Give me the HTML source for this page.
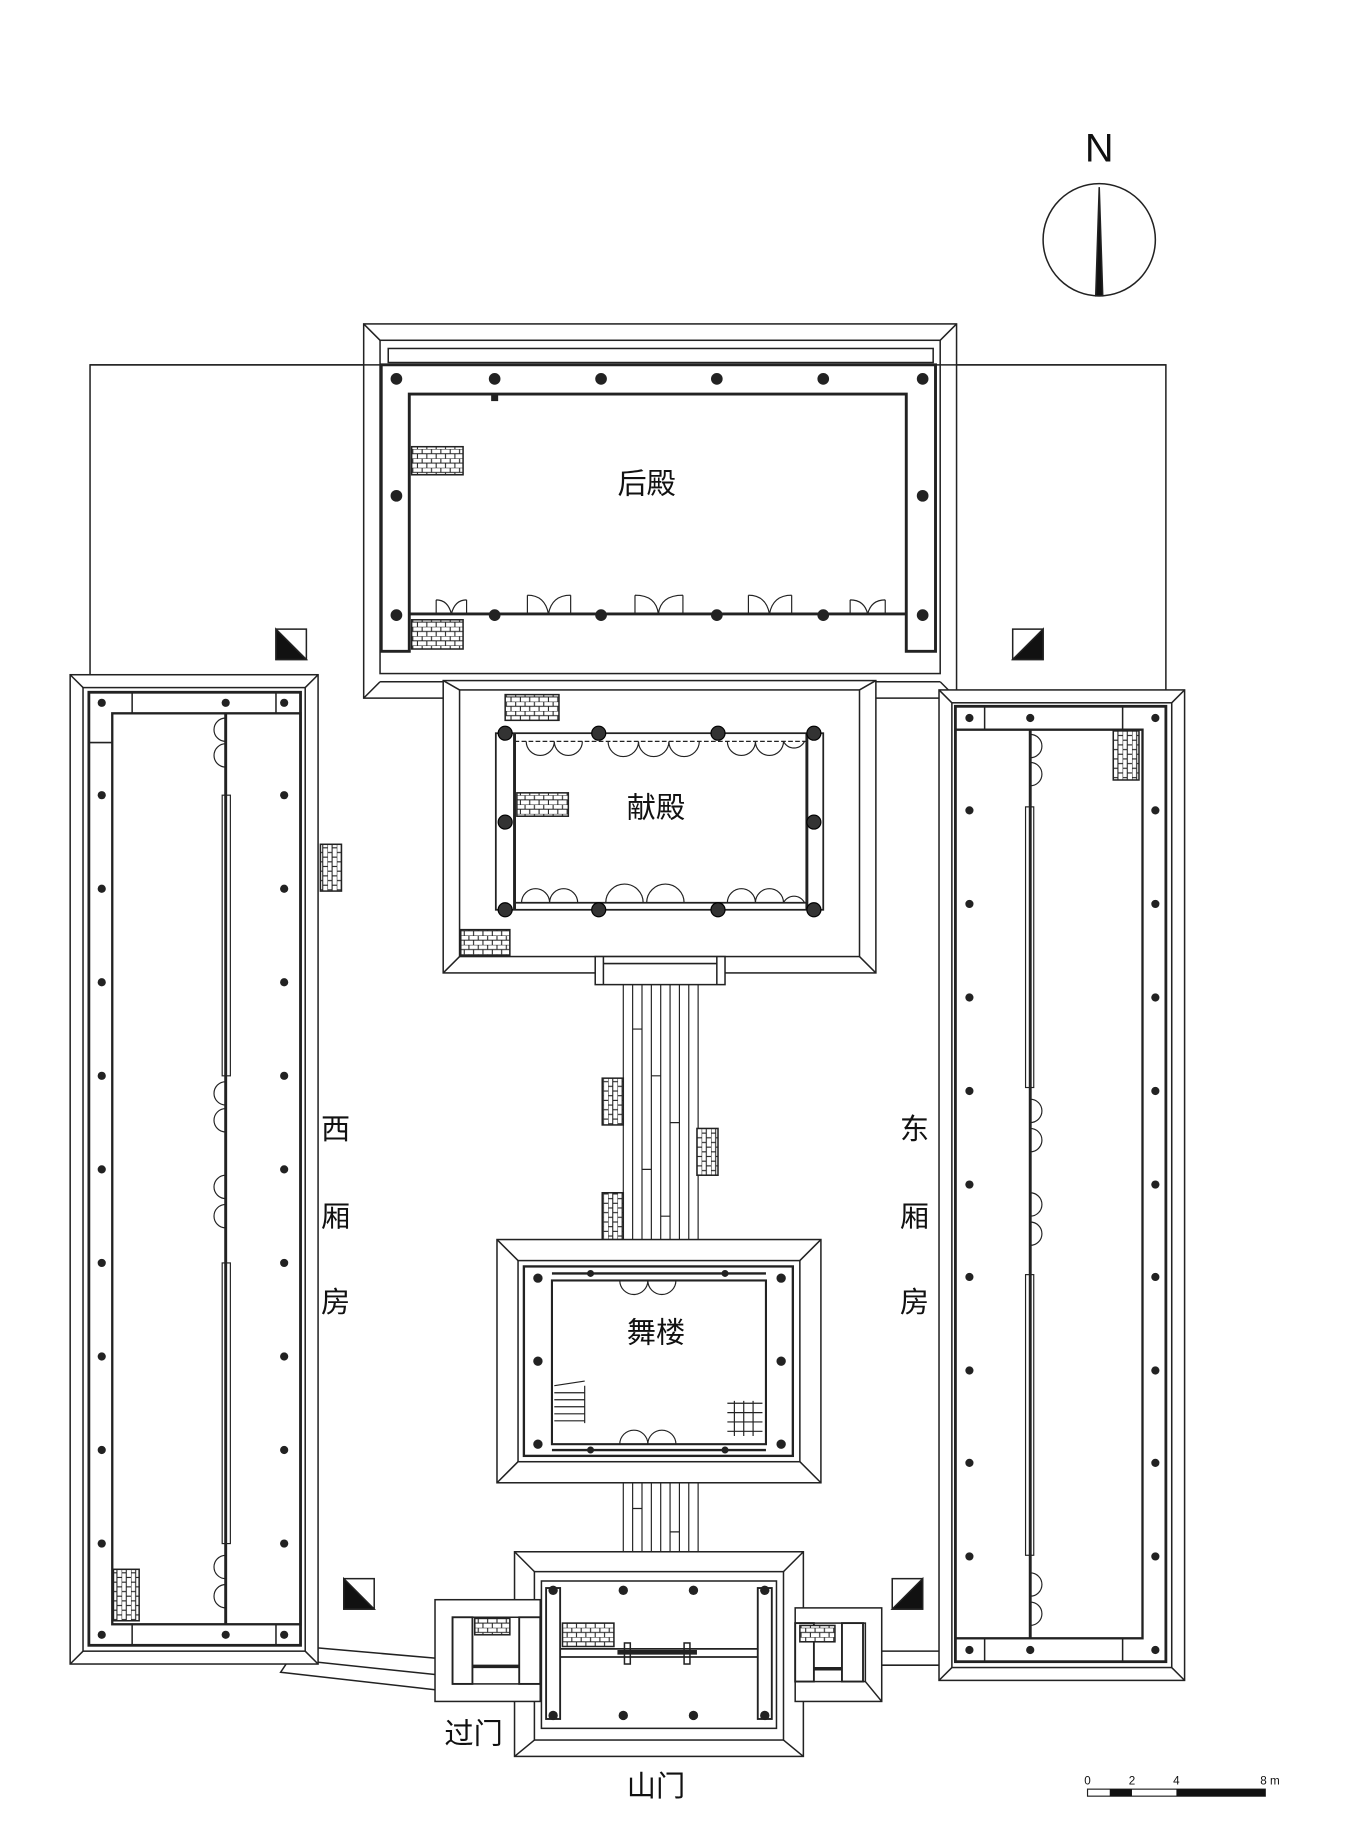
<!DOCTYPE html>
<html><head><meta charset="utf-8">
<style>
html,body{margin:0;padding:0;background:#fff;}
svg{display:block;}
text{font-family:"Liberation Sans","Noto Sans CJK SC",sans-serif;fill:#111;}
</style></head>
<body>
<svg width="1360" height="1833" viewBox="0 0 1163 1567.5" preserveAspectRatio="none" xmlns="http://www.w3.org/2000/svg">
<defs>
<pattern id="brick" width="8" height="8" patternUnits="userSpaceOnUse">
<rect width="8" height="8" fill="#fff"/>
<path d="M0 0H8M0 4H8M1 0V4M5 4V8" stroke="#222" stroke-width="0.9" fill="none"/>
</pattern>
<pattern id="brickv" width="8" height="8" patternUnits="userSpaceOnUse">
<rect width="8" height="8" fill="#fff"/>
<path d="M0 0V8M4 0V8M0 1H4M4 5H8" stroke="#222" stroke-width="0.9" fill="none"/>
</pattern>
</defs>
<g fill="none" stroke="#222" stroke-width="1.3">

<!-- compass -->
<circle cx="940" cy="205" r="48"/>
<polygon points="940,160 943,253 937,253" fill="#111"/>

<!-- courtyard outline -->
<polyline points="77,577 77,312 997,312 997,590"/>

<!-- 后殿 platform -->
<rect x="311" y="277" width="507" height="320" fill="#fff"/>
<rect x="325" y="291" width="479" height="285"/>
<line x1="311" y1="277" x2="325" y2="291"/><line x1="818" y1="277" x2="804" y2="291"/>
<line x1="311" y1="597" x2="325" y2="583"/><line x1="818" y1="597" x2="804" y2="583"/>
<line x1="325" y1="583" x2="804" y2="583"/>
<rect x="332" y="298" width="466" height="12"/>
<line x1="77" y1="312" x2="997" y2="312"/>
<path d="M326 312 H800 V557 H775 V337 H350 V557 H326 Z" stroke-width="2.5" fill="#fff"/>
<line x1="350" y1="525" x2="775" y2="525" stroke-width="2.5"/>
<!-- doors -->
<g stroke-width="1">
<path d="M373 525v-12M399 525v-12M373 513q10 0 13 12q3-12 13-12M451 525v-16M488 525v-16M451 509q15 0 18 16q3-16 19-16M543 525v-16M584 525v-16M543 509q18 0 20 16q2-16 21-16M640 525v-16M677 525v-16M640 509q15 0 18 16q3-16 19-16M727 525v-12M757 525v-12M727 513q12 0 15 12q3-12 15-12"/>
</g>
<rect x="352" y="382" width="44" height="24" fill="url(#brick)"/>
<rect x="352" y="530" width="44" height="25" fill="url(#brick)"/>
<g fill="#222" stroke="none">
<circle cx="339" cy="324" r="5"/><circle cx="423" cy="324" r="5"/><circle cx="514" cy="324" r="5"/><circle cx="613" cy="324" r="5"/><circle cx="704" cy="324" r="5"/><circle cx="789" cy="324" r="5"/>
<circle cx="339" cy="424" r="5"/><circle cx="789" cy="424" r="5"/>
<circle cx="339" cy="526" r="5"/><circle cx="423" cy="526" r="5"/><circle cx="514" cy="526" r="5"/><circle cx="613" cy="526" r="5"/><circle cx="704" cy="526" r="5"/><circle cx="789" cy="526" r="5"/>
<rect x="420" y="337" width="6" height="6"/>
</g>

<!-- corner markers -->
<rect x="236" y="538" width="26" height="26"/><polygon points="236,538 262,564 236,564" fill="#111"/>
<rect x="866" y="538" width="26" height="26"/><polygon points="892,538 892,564 866,564" fill="#111"/>
<rect x="294" y="1350" width="26" height="26"/><polygon points="294,1350 320,1376 294,1376" fill="#111"/>
<rect x="763" y="1350" width="26" height="26"/><polygon points="789,1350 789,1376 763,1376" fill="#111"/>

<!-- 献殿 platform -->
<rect x="379" y="582" width="370" height="250" fill="#fff"/>
<rect x="393" y="590" width="342" height="228"/>
<line x1="379" y1="832" x2="393" y2="818"/><line x1="749" y1="832" x2="735" y2="818"/>
<line x1="379" y1="582" x2="393" y2="590"/><line x1="749" y1="582" x2="735" y2="590"/>
<rect x="424" y="627" width="280" height="151" fill="#fff" stroke-width="1.5"/>
<line x1="440" y1="627" x2="440" y2="778" stroke-width="2.5"/>
<line x1="690" y1="627" x2="690" y2="778" stroke-width="2.5"/>
<line x1="440" y1="634" x2="690" y2="634" stroke-dasharray="4 2" stroke-width="1"/>
<g stroke-width="1">
<path d="M450 634a12 12 0 0 0 24 0M474 634a12 12 0 0 0 24 0M520 634a13 13 0 0 0 26 0M546 634a13 13 0 0 0 26 0M572 634a13 13 0 0 0 26 0M622 634a12 12 0 0 0 24 0M646 634a12 12 0 0 0 24 0M670 634a10 10 0 0 0 18 0"/>
<path d="M446 772a12 12 0 0 1 24 0M470 772a12 12 0 0 1 24 0M518 772a16 16 0 0 1 32 0M553 772a16 16 0 0 1 32 0M622 772a12 12 0 0 1 24 0M646 772a12 12 0 0 1 24 0M670 772a10 10 0 0 1 18 0"/>
</g>
<line x1="440" y1="772" x2="690" y2="772" stroke-width="1.5"/>
<rect x="432" y="594" width="46" height="22" fill="url(#brick)"/>
<rect x="442" y="678" width="44" height="20" fill="url(#brick)"/>
<rect x="394" y="795" width="42" height="22" fill="url(#brick)"/>
<g fill="#333" stroke="#000" stroke-width="1">
<circle cx="432" cy="627" r="6"/><circle cx="512" cy="627" r="6"/><circle cx="614" cy="627" r="6"/><circle cx="696" cy="627" r="6"/>
<circle cx="432" cy="703" r="6"/><circle cx="696" cy="703" r="6"/>
<circle cx="432" cy="778" r="6"/><circle cx="512" cy="778" r="6"/><circle cx="614" cy="778" r="6"/><circle cx="696" cy="778" r="6"/>
</g>

<!-- walkway -->
<rect x="509" y="818" width="111" height="24" fill="#fff"/>
<line x1="516" y1="818" x2="516" y2="842"/><line x1="613" y1="818" x2="613" y2="842"/>
<line x1="516" y1="824" x2="613" y2="824"/>
<g stroke-width="1">
<path d="M533 842V1080M541 842V1080M549 842V1080M557 842V1080M565 842V1080M573 842V1080M581 842V1080M589 842V1080M597 842V1080"/>
<path d="M533 1250V1340M541 1250V1340M549 1250V1340M557 1250V1340M565 1250V1340M573 1250V1340M581 1250V1340M589 1250V1340M597 1250V1340"/>
<path d="M541 880h8M557 920h8M573 960h8M549 1000h8M565 1040h8M541 1290h8M573 1310h8"/>
</g>
<rect x="515" y="922" width="18" height="40" fill="url(#brickv)"/>
<rect x="596" y="965" width="18" height="40" fill="url(#brickv)"/>
<rect x="515" y="1020" width="18" height="40" fill="url(#brickv)"/>

<!-- 舞楼 -->
<rect x="425" y="1060" width="277" height="208" fill="#fff"/>
<rect x="443" y="1078" width="241" height="172"/>
<line x1="425" y1="1060" x2="443" y2="1078"/><line x1="702" y1="1060" x2="684" y2="1078"/>
<line x1="425" y1="1268" x2="443" y2="1250"/><line x1="702" y1="1268" x2="684" y2="1250"/>
<rect x="448" y="1083" width="230" height="162" stroke-width="2"/>
<rect x="472" y="1095" width="183" height="140" stroke-width="1.8"/>
<line x1="472" y1="1089" x2="655" y2="1089" stroke-width="2"/>
<line x1="472" y1="1240" x2="655" y2="1240" stroke-width="2"/>
<g stroke-width="1">
<path d="M530 1095a12 12 0 0 0 24 0M554 1095a12 12 0 0 0 24 0M530 1235a12 12 0 0 1 24 0M554 1235a12 12 0 0 1 24 0"/>
<path d="M474 1215h26M474 1209h26M474 1203h26M474 1197h26M474 1191h26M500 1185v32M474 1185l26-4"/>
<path d="M622 1200h30M622 1208h30M622 1216h30M622 1224h30M628 1198v30M636 1198v30M644 1198v30"/>
</g>
<g fill="#222" stroke="none">
<circle cx="460" cy="1093" r="4"/><circle cx="668" cy="1093" r="4"/><circle cx="460" cy="1164" r="4"/><circle cx="668" cy="1164" r="4"/><circle cx="460" cy="1235" r="4"/><circle cx="668" cy="1235" r="4"/>
<circle cx="505" cy="1089" r="3"/><circle cx="620" cy="1089" r="3"/><circle cx="505" cy="1240" r="3"/><circle cx="620" cy="1240" r="3"/>
</g>

<!-- 山门 -->
<rect x="440" y="1327" width="247" height="175" fill="#fff"/>
<rect x="457" y="1344" width="213" height="144"/>
<line x1="440" y1="1327" x2="457" y2="1344"/><line x1="687" y1="1327" x2="670" y2="1344"/>
<line x1="440" y1="1502" x2="457" y2="1488"/><line x1="687" y1="1502" x2="670" y2="1488"/>
<rect x="463" y="1352" width="201" height="126"/>
<rect x="467" y="1358" width="12" height="112" stroke-width="1.6"/>
<rect x="648" y="1358" width="12" height="112" stroke-width="1.6"/>
<line x1="479" y1="1410" x2="648" y2="1410" stroke-width="1.5"/>
<line x1="479" y1="1417" x2="648" y2="1417" stroke-width="1.5"/>
<line x1="528" y1="1413" x2="596" y2="1413" stroke-width="4"/>
<rect x="534" y="1405" width="5" height="18"/><rect x="585" y="1405" width="5" height="18"/>
<rect x="481" y="1388" width="44" height="20" fill="url(#brick)"/>
<g fill="#222" stroke="none">
<circle cx="473" cy="1360" r="4"/><circle cx="533" cy="1360" r="4"/><circle cx="593" cy="1360" r="4"/><circle cx="654" cy="1360" r="4"/>
<circle cx="473" cy="1467" r="4"/><circle cx="533" cy="1467" r="4"/><circle cx="593" cy="1467" r="4"/><circle cx="654" cy="1467" r="4"/>
</g>

<!-- left 过门 -->
<rect x="372" y="1368" width="90" height="87" fill="#fff"/>
<rect x="387" y="1383" width="75" height="57"/>
<rect x="387" y="1383" width="17" height="57" stroke-width="1.6"/>
<rect x="444" y="1383" width="18" height="57" stroke-width="1.6"/>
<rect x="406" y="1384" width="30" height="14" fill="url(#brick)"/>
<line x1="404" y1="1425" x2="444" y2="1425" stroke-width="3"/>
<!-- left connector -->
<path d="M258 1408 L372 1418 M252 1412 L240 1430 L372 1445 M258 1420 L372 1432" />
<!-- right 过门 -->
<rect x="680" y="1375" width="74" height="80" fill="#fff"/>
<rect x="680" y="1388" width="60" height="50"/>
<rect x="680" y="1388" width="16" height="50" stroke-width="1.6"/>
<rect x="720" y="1388" width="18" height="50" stroke-width="1.6"/>
<rect x="684" y="1390" width="30" height="14" fill="url(#brick)"/>
<line x1="696" y1="1427" x2="720" y2="1427" stroke-width="3"/>
<path d="M754 1412 L817 1412 M754 1424 L830 1424 L830 1437 M740 1438 L754 1455"/>

<!-- West wing -->
<rect x="60" y="577" width="212" height="846" fill="#fff"/>
<rect x="71" y="588" width="190" height="824"/>
<line x1="60" y1="577" x2="71" y2="588"/><line x1="272" y1="577" x2="261" y2="588"/>
<line x1="60" y1="1423" x2="71" y2="1412"/><line x1="272" y1="1423" x2="261" y2="1412"/>
<rect x="76" y="592" width="181" height="815" stroke-width="2.4"/>
<rect x="96" y="610" width="161" height="779" stroke-width="2"/>
<line x1="113" y1="592" x2="113" y2="610"/><line x1="236" y1="592" x2="236" y2="610"/>
<line x1="113" y1="1389" x2="113" y2="1407"/><line x1="236" y1="1389" x2="236" y2="1407"/>
<line x1="76" y1="635" x2="96" y2="635"/>
<line x1="193" y1="610" x2="193" y2="1389" stroke-width="2.5"/>
<rect x="190" y="680" width="7" height="240" stroke-width="1"/>
<rect x="190" y="1080" width="7" height="240" stroke-width="1"/>
<g stroke-width="1">
<path d="M193 614a10 10 0 0 0 0 20M193 636a10 10 0 0 0 0 20M193 925a10 10 0 0 0 0 20M193 948a10 10 0 0 0 0 20M193 1005a10 10 0 0 0 0 20M193 1030a10 10 0 0 0 0 20M193 1330a10 10 0 0 0 0 20M193 1355a10 10 0 0 0 0 20"/>
</g>
<rect x="97" y="1342" width="22" height="44" fill="url(#brickv)"/>
<rect x="274" y="722" width="18" height="40" fill="url(#brickv)"/>
<g fill="#222" stroke="none">
<circle cx="87" cy="601" r="3.5"/><circle cx="193" cy="601" r="3.5"/><circle cx="243" cy="601" r="3.5"/>
<circle cx="87" cy="1398" r="3.5"/><circle cx="193" cy="1398" r="3.5"/><circle cx="243" cy="1398" r="3.5"/>
<circle cx="87" cy="680" r="3.5"/><circle cx="87" cy="760" r="3.5"/><circle cx="87" cy="840" r="3.5"/><circle cx="87" cy="920" r="3.5"/><circle cx="87" cy="1000" r="3.5"/><circle cx="87" cy="1080" r="3.5"/><circle cx="87" cy="1160" r="3.5"/><circle cx="87" cy="1240" r="3.5"/><circle cx="87" cy="1320" r="3.5"/>
<circle cx="243" cy="680" r="3.5"/><circle cx="243" cy="760" r="3.5"/><circle cx="243" cy="840" r="3.5"/><circle cx="243" cy="920" r="3.5"/><circle cx="243" cy="1000" r="3.5"/><circle cx="243" cy="1080" r="3.5"/><circle cx="243" cy="1160" r="3.5"/><circle cx="243" cy="1240" r="3.5"/><circle cx="243" cy="1320" r="3.5"/>
</g>

<!-- East wing -->
<rect x="803" y="590" width="210" height="847" fill="#fff"/>
<rect x="814" y="601" width="188" height="825"/>
<line x1="803" y1="590" x2="814" y2="601"/><line x1="1013" y1="590" x2="1002" y2="601"/>
<line x1="803" y1="1437" x2="814" y2="1426"/><line x1="1013" y1="1437" x2="1002" y2="1426"/>
<rect x="817" y="604" width="180" height="817" stroke-width="2.4"/>
<rect x="817" y="624" width="160" height="777" stroke-width="2"/>
<line x1="842" y1="604" x2="842" y2="624"/><line x1="960" y1="604" x2="960" y2="624"/>
<line x1="842" y1="1401" x2="842" y2="1421"/><line x1="960" y1="1401" x2="960" y2="1421"/>
<line x1="881" y1="624" x2="881" y2="1401" stroke-width="2.5"/>
<rect x="877" y="690" width="7" height="240" stroke-width="1"/>
<rect x="877" y="1090" width="7" height="240" stroke-width="1"/>
<g stroke-width="1">
<path d="M881 628a10 10 0 0 1 0 20M881 652a10 10 0 0 1 0 20M881 940a10 10 0 0 1 0 20M881 965a10 10 0 0 1 0 20M881 1020a10 10 0 0 1 0 20M881 1045a10 10 0 0 1 0 20M881 1345a10 10 0 0 1 0 20M881 1370a10 10 0 0 1 0 20"/>
</g>
<rect x="952" y="625" width="22" height="42" fill="url(#brickv)"/>
<g fill="#222" stroke="none">
<circle cx="829" cy="614" r="3.5"/><circle cx="881" cy="614" r="3.5"/><circle cx="988" cy="614" r="3.5"/>
<circle cx="829" cy="1411" r="3.5"/><circle cx="881" cy="1411" r="3.5"/><circle cx="988" cy="1411" r="3.5"/>
<circle cx="829" cy="693" r="3.5"/><circle cx="829" cy="773" r="3.5"/><circle cx="829" cy="853" r="3.5"/><circle cx="829" cy="933" r="3.5"/><circle cx="829" cy="1013" r="3.5"/><circle cx="829" cy="1092" r="3.5"/><circle cx="829" cy="1172" r="3.5"/><circle cx="829" cy="1251" r="3.5"/><circle cx="829" cy="1331" r="3.5"/>
<circle cx="988" cy="693" r="3.5"/><circle cx="988" cy="773" r="3.5"/><circle cx="988" cy="853" r="3.5"/><circle cx="988" cy="933" r="3.5"/><circle cx="988" cy="1013" r="3.5"/><circle cx="988" cy="1092" r="3.5"/><circle cx="988" cy="1172" r="3.5"/><circle cx="988" cy="1251" r="3.5"/><circle cx="988" cy="1331" r="3.5"/>
</g>

<!-- scale bar -->
<rect x="930" y="1530" width="152" height="6" stroke-width="1"/>
<rect x="949" y="1530" width="19" height="6" fill="#111" stroke="none"/>
<rect x="1006" y="1530" width="76" height="6" fill="#111" stroke="none"/>
</g>

<g stroke="none">
<text x="940" y="138" font-size="34" text-anchor="middle" font-family="Liberation Sans Narrow, Liberation Sans, sans-serif" style="font-weight:normal">N</text>
<text x="553" y="422" font-size="25" text-anchor="middle">后殿</text>
<text x="561" y="699" font-size="25" text-anchor="middle">献殿</text>
<text x="561" y="1148" font-size="25" text-anchor="middle">舞楼</text>
<text x="287" y="974" font-size="25" text-anchor="middle">西</text>
<text x="287" y="1049" font-size="25" text-anchor="middle">厢</text>
<text x="287" y="1122" font-size="25" text-anchor="middle">房</text>
<text x="782" y="974" font-size="25" text-anchor="middle">东</text>
<text x="782" y="1049" font-size="25" text-anchor="middle">厢</text>
<text x="782" y="1122" font-size="25" text-anchor="middle">房</text>
<text x="405" y="1491" font-size="25" text-anchor="middle">过门</text>
<text x="561" y="1536" font-size="25" text-anchor="middle">山门</text>
<text x="930" y="1526" font-size="10" text-anchor="middle">0</text>
<text x="968" y="1526" font-size="10" text-anchor="middle">2</text>
<text x="1006" y="1526" font-size="10" text-anchor="middle">4</text>
<text x="1086" y="1526" font-size="10" text-anchor="middle">8 m</text>
</g>
</svg>
</body></html>
